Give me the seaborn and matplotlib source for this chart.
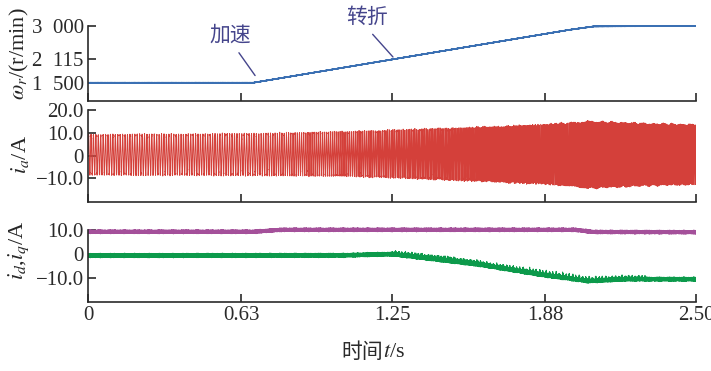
import numpy as np
import pandas as pd
import matplotlib
matplotlib.use("Agg")
import matplotlib.pyplot as plt
import seaborn as sns

# speed profile (t in s, speed in r/min)
speed_t = [0.0, 0.68, 1.25, 1.98, 2.08, 2.5]
speed_v = [1500, 1500, 2115, 2900, 2990, 3000]

# phase current envelope (upper / lower peak, A)
ia_t = [0.0, 0.68, 1.08, 1.50, 1.87, 2.06, 2.30, 2.5]
ia_up = [9.6, 10.0, 11.0, 12.6, 14.2, 15.6, 14.6, 14.4]
ia_lo = [-9.0, -9.2, -9.6, -11.4, -13.2, -15.0, -13.8, -13.6]

# dq currents (mean level, A)
iq_t = [0.0, 0.68, 0.80, 2.00, 2.08, 2.5]
iq_v = [9.3, 9.3, 10.1, 10.1, 9.2, 9.1]
id_t = [0.0, 1.05, 1.25, 1.60, 1.88, 2.06, 2.20, 2.5]
id_v = [-0.6, -0.5, 0.0, -4.2, -8.8, -11.2, -10.4, -10.4]

xticks = [0, 0.63, 1.25, 1.88, 2.5]
xtick_labels = ["0", "0.63", "1.25", "1.88", "2.50"]

c_speed = "#3b70b3"
c_ia = "#d4403a"
c_iq = "#a4509a"
c_id = "#0c9a4b"
c_note = "#45458c"

# sample the recorded waveforms
t = np.arange(0, 2.5 + 1e-9, 1e-4)
speed = np.interp(t, speed_t, speed_v)
ripple = (np.sin(2 * np.pi * 1373 * t) + 0.7 * np.sin(2 * np.pi * 2917 * t + 1.1)
          + 0.5 * np.sin(2 * np.pi * 4481 * t + 2.3) + 0.4 * np.sin(2 * np.pi * 797 * t + 0.4)) / 2.6

# electrical frequency follows the speed (100 Hz at 1500 r/min)
phase = 2 * np.pi * np.cumsum(speed / 1500 * 100) * 1e-4
up = np.interp(t, ia_t, ia_up)
lo = np.interp(t, ia_t, ia_lo)
ia = (up + lo) / 2 + (up - lo) / 2 * np.sin(phase) * (0.93 + 0.07 * ripple)

iq = np.interp(t, iq_t, iq_v) + 0.9 * ripple
spikes = np.clip(np.sin(2 * np.pi * 613 * t + 0.7), 0, None) ** 40 * np.sin(2 * np.pi * 37 * t) ** 2
id_ = np.interp(t, id_t, id_v) + 1.0 * ripple + 1.8 * spikes * ((t > 1.25) & (t < 2.3))

df = pd.DataFrame({"t": t, "speed": speed + 5 * ripple, "ia": ia, "iq": iq, "id": id_})

sns.set_style("ticks")
plt.rcParams["font.family"] = ["Liberation Serif", "Noto Sans CJK SC"]
plt.rcParams["mathtext.fontset"] = "stix"
plt.rcParams["axes.edgecolor"] = "#2a2a2a"
plt.rcParams["axes.linewidth"] = 1.2

fig = plt.figure(figsize=(7.11, 3.71), dpi=100)
W, H = 711, 371


def add_panel(top, bottom):
    return fig.add_axes([88 / W, 1 - bottom / H, 608 / W, (bottom - top) / H])


ax1 = add_panel(22, 101)
ax2 = add_panel(106, 201.7)
ax3 = add_panel(224, 302.3)

sns.lineplot(data=df, x="t", y="speed", ax=ax1, color=c_speed, lw=1.0, estimator=None)
sns.lineplot(data=df, x="t", y="ia", ax=ax2, color=c_ia, lw=0.7, estimator=None)
sns.lineplot(data=df, x="t", y="iq", ax=ax3, color=c_iq, lw=0.8, estimator=None)
sns.lineplot(data=df, x="t", y="id", ax=ax3, color=c_id, lw=0.8, estimator=None)

ax1.set_ylim(1016, 3106)
ax1.spines["left"].set_bounds(1016, 3000)
ax1.set_yticks([1500, 2115, 3000], ["1\u2002500", "2\u2002115", "3\u2002000"])

ax2.set_ylim(-20.3, 21.75)
ax2.spines["left"].set_bounds(-20.3, 20)
ax2.set_yticks([-10, 0, 10, 20], ["\u221210.0", "0", "10.0", "20.0"])

ax3.set_ylim(-20, 12.5)
ax3.spines["left"].set_bounds(-20, 10)
ax3.set_yticks([-10, 0, 10], ["\u221210.0", "0", "10.0"])

for ax in (ax1, ax2, ax3):
    ax.set_xlim(0, 2.5)
    ax.set_xticks(xticks, xtick_labels)
    sns.despine(ax=ax)
    ax.tick_params(direction="in", length=6, width=1.2, labelsize=15, colors="#2a2a2a", pad=3)
    ax.set_xlabel("")
for ax in (ax1, ax2):
    ax.tick_params(axis="x", labelbottom=False)

ax1.set_ylabel(r"$\omega_r$/(r/min)", fontsize=16)
ax2.set_ylabel(r"$i_a$/A", fontsize=16)
ax3.set_ylabel(r"$i_d$,$i_q$/A", fontsize=16)
ax1.yaxis.set_label_coords(-0.094, 0.60)
ax2.yaxis.set_label_coords(-0.094, 0.49)
ax3.yaxis.set_label_coords(-0.094, 0.66)

# x label: Chinese part and math part as separate texts so the CJK font is used
ax3.text(0.485, -0.64, "时间", transform=ax3.transAxes, ha="right", va="center",
         fontsize=15, family=["Noto Sans CJK SC"], color="#2a2a2a")
ax3.text(0.486, -0.64, "$t$/s", transform=ax3.transAxes, ha="left", va="center",
         fontsize=16, color="#2a2a2a")

ax1.annotate("加速", xy=(0.687, 1690), xytext=(0.584, 2760), ha="center", va="center",
             fontsize=15, color=c_note, family=["Noto Sans CJK SC"],
             arrowprops=dict(arrowstyle="-", color=c_note, lw=1.0, relpos=(0.6, 0), shrinkA=3, shrinkB=0))
ax1.annotate("转折", xy=(1.254, 2180), xytext=(1.147, 3240), ha="center", va="center",
             fontsize=15, color=c_note, family=["Noto Sans CJK SC"], annotation_clip=False,
             arrowprops=dict(arrowstyle="-", color=c_note, lw=1.0, relpos=(0.5, 0), shrinkA=3, shrinkB=0))

fig.savefig("out.png", dpi=100)
plt.close()
